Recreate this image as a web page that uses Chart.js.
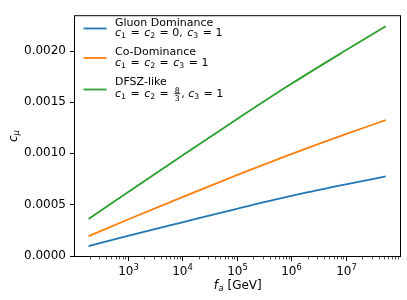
<!DOCTYPE html>
<html>
<head>
<meta charset="utf-8">
<script src="https://cdn.jsdelivr.net/npm/chart.js@4.4.1/dist/chart.umd.min.js"></script>
<style>
    html, body { margin: 0; padding: 0; background: #fff; }
    canvas { display: block; }
</style>
</head>
<body>
<canvas id="chart" width="407" height="300"></canvas>
<script>
// f_a in GeV and the three c_mu curves
const fa = [190, 1e3, 1e4, 1e5, 1e6, 1e7, 5.4e7];
const gluonDominance = [0.0000925, 0.000192, 0.000325, 0.000457, 0.000583, 0.000696, 0.000775];
const coDominance = [0.00019, 0.000353, 0.000571, 0.000787, 0.000993, 0.001188, 0.001325];
const dfszLike = [0.000357, 0.00062, 0.00098, 0.001334, 0.00168, 0.002008, 0.002243];

const seriesLabels = ['Gluon Dominance', 'Co-Dominance', 'DFSZ-like'];
const seriesColors = ['#1f77b4', '#ff7f0e', '#2ca02c'];

const xTickExponents = [3, 4, 5, 6, 7];
const yTickValues = [0, 0.0005, 0.001, 0.0015, 0.002];

const FONT = '"DejaVu Sans", "Liberation Sans", sans-serif';

// second legend line, as math pieces: i = italic, s = subscript, n = upright, f = fraction
const legendMath = [
    [['c', 'i'], ['1', 's'], [' = ', 'n'], ['c', 'i'], ['2', 's'], [' = 0, ', 'n'], ['c', 'i'], ['3', 's'], [' = 1', 'n']],
    [['c', 'i'], ['1', 's'], [' = ', 'n'], ['c', 'i'], ['2', 's'], [' = ', 'n'], ['c', 'i'], ['3', 's'], [' = 1', 'n']],
    [['c', 'i'], ['1', 's'], [' = ', 'n'], ['c', 'i'], ['2', 's'], [' = ', 'n'], ['8/3', 'f'], [', ', 'n'], ['c', 'i'], ['3', 's'], [' = 1', 'n']]
];

function toPoints(values) {
    return values.map((v, i) => ({ x: fa[i], y: v }));
}

function drawMath(ctx, x, baseline, pieces, size) {
    ctx.textAlign = 'left';
    ctx.textBaseline = 'alphabetic';
    pieces.forEach(([text, kind]) => {
        if (kind === 'i') {
            ctx.font = `italic ${size}px ${FONT}`;
            ctx.fillText(text, x, baseline);
            x += ctx.measureText(text).width;
        } else if (kind === 's') {
            ctx.font = `${size * 0.7}px ${FONT}`;
            ctx.fillText(text, x, baseline + size * 0.2);
            x += ctx.measureText(text).width;
        } else if (kind === 'f') {
            const [num, den] = text.split('/');
            ctx.font = `${size * 0.7}px ${FONT}`;
            const w = Math.max(ctx.measureText(num).width, ctx.measureText(den).width) + 1;
            const bar = baseline - size * 0.3;
            x += 1;
            ctx.textAlign = 'center';
            ctx.fillText(num, x + w / 2, bar - 1.2);
            ctx.fillText(den, x + w / 2, bar + 1.2 + size * 0.7 * 0.73);
            ctx.textAlign = 'left';
            ctx.fillRect(x, bar - 0.4, w, 0.8);
            x += w + 1;
        } else {
            // relations get a little extra room, like mathtext does
            const rel = text.includes('=') ? 1 : 0;
            ctx.font = `${size}px ${FONT}`;
            x += rel;
            ctx.fillText(text, x, baseline);
            x += ctx.measureText(text).width + rel;
        }
    });
    return x;
}

const axesDecor = {
    id: 'axesDecor',
    afterDraw(chart) {
        const { ctx, chartArea: a, scales: { x, y } } = chart;
        ctx.save();
        ctx.fillStyle = '#000';
        ctx.strokeStyle = '#000';

        // frame
        ctx.lineWidth = 1;
        ctx.strokeRect(a.left + 0.5, a.top + 0.5, a.right - a.left - 1, a.bottom - a.top - 1);

        // y ticks
        yTickValues.forEach(v => {
            const py = Math.round(y.getPixelForValue(v)) + 0.5;
            ctx.beginPath();
            ctx.moveTo(a.left - 4, py);
            ctx.lineTo(a.left, py);
            ctx.stroke();
        });

        // x minor ticks
        ctx.lineWidth = 0.7;
        for (let e = 2; e <= 7; e++) {
            for (let k = 2; k <= 9; k++) {
                const v = k * Math.pow(10, e);
                if (v < x.min || v > x.max) continue;
                const px = Math.round(x.getPixelForValue(v)) + 0.5;
                ctx.beginPath();
                ctx.moveTo(px, a.bottom - 1);
                ctx.lineTo(px, a.bottom + 2.4);
                ctx.stroke();
            }
        }

        // x major ticks and labels
        ctx.lineWidth = 1;
        xTickExponents.forEach(e => {
            const px = Math.round(x.getPixelForValue(Math.pow(10, e))) + 0.5;
            ctx.beginPath();
            ctx.moveTo(px, a.bottom - 1);
            ctx.lineTo(px, a.bottom + 4);
            ctx.stroke();

            ctx.font = `12px ${FONT}`;
            const wBase = ctx.measureText('10').width;
            ctx.font = `8.4px ${FONT}`;
            const wExp = ctx.measureText(String(e)).width;
            const left = px - (wBase + wExp) / 2;
            ctx.textAlign = 'left';
            ctx.textBaseline = 'alphabetic';
            ctx.font = `12px ${FONT}`;
            ctx.fillText('10', left, a.bottom + 18);
            ctx.font = `8.4px ${FONT}`;
            ctx.fillText(String(e), left + wBase, a.bottom + 13);
        });

        // x title: f_a [GeV]
        ctx.font = `italic 12px ${FONT}`;
        let wT = ctx.measureText('f').width;
        ctx.font = `italic 8.4px ${FONT}`;
        wT += ctx.measureText('a').width;
        ctx.font = `12px ${FONT}`;
        wT += ctx.measureText(' [GeV]').width;
        let tx = (a.left + a.right) / 2 - wT / 2;
        const tb = 289;
        ctx.textAlign = 'left';
        ctx.font = `italic 12px ${FONT}`;
        ctx.fillText('f', tx, tb);
        tx += ctx.measureText('f').width + 0.5;
        ctx.font = `italic 8.4px ${FONT}`;
        ctx.fillText('a', tx, tb + 2.4);
        tx += ctx.measureText('a').width;
        ctx.font = `12px ${FONT}`;
        ctx.fillText(' [GeV]', tx, tb);

        // y title: c_mu
        ctx.save();
        ctx.translate(17, (a.top + a.bottom) / 2);
        ctx.rotate(-Math.PI / 2);
        ctx.font = `italic 12px ${FONT}`;
        const wc = ctx.measureText('c').width;
        ctx.font = `italic 8.4px ${FONT}`;
        const wm = ctx.measureText('\u03bc').width;
        const yx = -(wc + wm) / 2;
        ctx.font = `italic 12px ${FONT}`;
        ctx.fillText('c', yx, 0);
        ctx.font = `italic 8.4px ${FONT}`;
        ctx.fillText('\u03bc', yx + wc, 2.4);
        ctx.restore();

        // legend
        const handleY = [28.5, 58, 89.5];
        const line1 = [25.5, 55, 84.5];
        const line2 = [36, 65.5, 97];
        seriesLabels.forEach((label, i) => {
            ctx.strokeStyle = seriesColors[i];
            ctx.lineWidth = 1.8;
            ctx.beginPath();
            ctx.moveTo(83.5, handleY[i]);
            ctx.lineTo(106.5, handleY[i]);
            ctx.stroke();
            ctx.fillStyle = '#000';
            ctx.font = `11px ${FONT}`;
            ctx.textAlign = 'left';
            ctx.textBaseline = 'alphabetic';
            ctx.fillText(label, 115, line1[i]);
            drawMath(ctx, 115, line2[i], legendMath[i], 11);
        });

        ctx.restore();
    }
};

new Chart(document.getElementById('chart'), {
    type: 'line',
    data: {
        datasets: [
            { label: seriesLabels[0], data: toPoints(gluonDominance), borderColor: seriesColors[0] },
            { label: seriesLabels[1], data: toPoints(coDominance), borderColor: seriesColors[1] },
            { label: seriesLabels[2], data: toPoints(dfszLike), borderColor: seriesColors[2] }
        ]
    },
    options: {
        responsive: false,
        animation: false,
        devicePixelRatio: 1,
        layout: { padding: { top: 6, right: 6, left: 0, bottom: 0 } },
        elements: {
            point: { radius: 0 },
            line: { borderWidth: 1.8, cubicInterpolationMode: 'monotone', fill: false }
        },
        plugins: {
            legend: { display: false },
            tooltip: { enabled: false }
        },
        scales: {
            x: {
                type: 'logarithmic',
                min: Math.pow(10, 2.011),
                max: Math.pow(10, 8.013),
                grid: { display: false },
                border: { display: false },
                ticks: { display: false },
                afterFit: scale => { scale.height = 43; }
            },
            y: {
                type: 'linear',
                min: -0.0000141,
                max: 0.0023516,
                grid: { display: false, drawTicks: false },
                border: { display: false },
                afterBuildTicks: scale => { scale.ticks = yTickValues.map(v => ({ value: v })); },
                ticks: {
                    padding: 8,
                    color: '#000',
                    font: { family: FONT, size: 12 },
                    callback: v => v.toFixed(4)
                },
                afterFit: scale => { scale.width = 74; }
            }
        }
    },
    plugins: [axesDecor]
});
</script>
</body>
</html>
